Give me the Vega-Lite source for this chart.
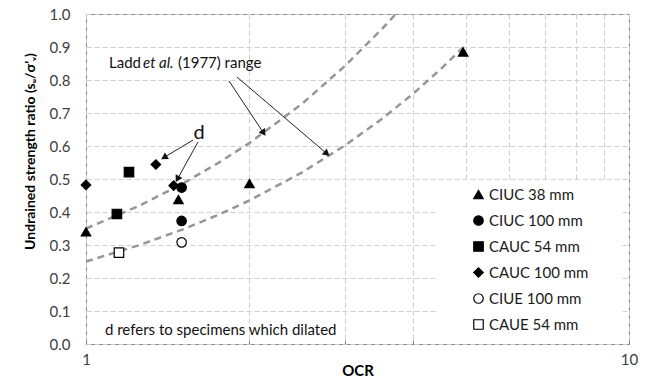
{
  "$schema": "https://vega.github.io/schema/vega-lite/v6.json",
  "width": 543,
  "height": 330,
  "autosize": "none",
  "padding": {"left": 86, "top": 14, "right": 35, "bottom": 45},
  "background": "white",
  "config": {
    "font": "Lato",
    "view": {"stroke": "#808080", "strokeWidth": 1},
    "axis": {
      "labelFont": "Lato", "labelFontSize": 15, "labelColor": "#404040",
      "titleFont": "Lato", "titleFontSize": 15, "titleFontWeight": "bold", "titleColor": "#000000",
      "domain": false, "ticks": false, "labelOverlap": false,
      "gridColor": "#cfcfcf", "gridDash": [5, 3], "gridWidth": 1
    },
    "axisY": {"labelOverlap": false},
    "axisQuantitative": {"labelOverlap": false},
    "legend": {
      "orient": "none", "legendX": 385, "legendY": 173,
      "labelFont": "Lato", "labelFontSize": 15, "labelColor": "#1a1a1a",
      "symbolSize": 90, "symbolStrokeWidth": 1.2,
      "rowPadding": 10, "labelOffset": 3, "padding": 0
    }
  },
  "datasets": {
    "points": [
      {"series": "CIUC 38 mm", "ocr": 1.0, "ratio": 0.34},
      {"series": "CIUC 38 mm", "ocr": 1.48, "ratio": 0.438},
      {"series": "CIUC 38 mm", "ocr": 2.0, "ratio": 0.486},
      {"series": "CIUC 38 mm", "ocr": 4.95, "ratio": 0.885},
      {"series": "CIUC 100 mm", "ocr": 1.5, "ratio": 0.474},
      {"series": "CIUC 100 mm", "ocr": 1.5, "ratio": 0.373},
      {"series": "CAUC 54 mm", "ocr": 1.2, "ratio": 0.521},
      {"series": "CAUC 54 mm", "ocr": 1.14, "ratio": 0.394},
      {"series": "CAUC 100 mm", "ocr": 1.0, "ratio": 0.482},
      {"series": "CAUC 100 mm", "ocr": 1.345, "ratio": 0.544},
      {"series": "CAUC 100 mm", "ocr": 1.45, "ratio": 0.48},
      {"series": "CIUE 100 mm", "ocr": 1.5, "ratio": 0.308},
      {"series": "CAUE 54 mm", "ocr": 1.15, "ratio": 0.277}
    ],
    "curves": [
      {"curve": "lower", "ocr": 1.0, "ratio": 0.25},
      {"curve": "lower", "ocr": 1.25, "ratio": 0.299},
      {"curve": "lower", "ocr": 1.5, "ratio": 0.346},
      {"curve": "lower", "ocr": 1.75, "ratio": 0.391},
      {"curve": "lower", "ocr": 2.0, "ratio": 0.435},
      {"curve": "lower", "ocr": 2.5, "ratio": 0.52},
      {"curve": "lower", "ocr": 3.0, "ratio": 0.602},
      {"curve": "lower", "ocr": 3.5, "ratio": 0.681},
      {"curve": "lower", "ocr": 4.0, "ratio": 0.758},
      {"curve": "lower", "ocr": 4.5, "ratio": 0.833},
      {"curve": "lower", "ocr": 5.0, "ratio": 0.906},
      {"curve": "upper", "ocr": 1.0, "ratio": 0.35},
      {"curve": "upper", "ocr": 1.25, "ratio": 0.418},
      {"curve": "upper", "ocr": 1.5, "ratio": 0.484},
      {"curve": "upper", "ocr": 1.75, "ratio": 0.548},
      {"curve": "upper", "ocr": 2.0, "ratio": 0.609},
      {"curve": "upper", "ocr": 2.5, "ratio": 0.728},
      {"curve": "upper", "ocr": 3.0, "ratio": 0.843},
      {"curve": "upper", "ocr": 3.5, "ratio": 0.953},
      {"curve": "upper", "ocr": 3.72, "ratio": 1.0}
    ],
    "arrows": [
      {"id": "a1", "ocr": 1.834, "ratio": 0.797, "ocr2": 2.118, "ratio2": 0.642},
      {"id": "a2", "ocr": 1.897, "ratio": 0.809, "ocr2": 2.767, "ratio2": 0.579},
      {"id": "d1", "ocr": 1.574, "ratio": 0.618, "ocr2": 1.398, "ratio2": 0.567},
      {"id": "d2", "ocr": 1.608, "ratio": 0.612, "ocr2": 1.477, "ratio2": 0.503}
    ],
    "notes": [
      {"key": "ladd", "label": "Ladd", "ocr": 1.1024, "ratio": 0.8515},
      {"key": "etal", "label": "et al.", "ocr": 1.2735, "ratio": 0.8515},
      {"key": "ladd", "label": "(1977) range", "ocr": 1.477, "ratio": 0.8515},
      {"key": "d", "label": "d", "ocr": 1.615, "ratio": 0.639},
      {"key": "foot", "label": "d refers to specimens which dilated", "ocr": 1.0838, "ratio": 0.0424}
    ],
    "legendbox": [
      {"ocr": 4.45, "ocr2": 9.7, "ratio": 0.0, "ratio2": 0.494}
    ]
  },
  "layer": [
    {
      "data": {"name": "legendbox"},
      "mark": {"type": "rect", "fill": "white", "stroke": null},
      "encoding": {
        "x": {
          "field": "ocr", "type": "quantitative",
          "scale": {"type": "log", "domain": [1, 10], "nice": false},
          "axis": {
            "title": "OCR", "values": [1, 2, 3, 4, 5, 6, 7, 8, 9, 10],
            "labelExpr": "datum.value == 1 || datum.value == 10 ? datum.label : ''",
            "ticks": true, "tickSize": -4, "tickColor": "#808080",
            "labelPadding": 12, "titlePadding": -4, "labelFlush": false, "labelOverlap": false
          }
        },
        "x2": {"field": "ocr2"},
        "y": {
          "field": "ratio", "type": "quantitative",
          "scale": {"domain": [0, 1], "nice": false},
          "axis": {
            "title": "Undrained strength ratio (sᵤ/σ'ᵥ)",
            "titleFontSize": 14, "titleY": 137, "titleAlign": "center",
            "tickCount": 10,
            "format": ".1f", "labelPadding": 16, "titlePadding": 12,
            "labelOverlap": false, "labelBound": false
          }
        },
        "y2": {"field": "ratio2"}
      }
    },
    {
      "data": {"name": "curves"},
      "mark": {"type": "line", "color": "#969696", "strokeWidth": 2.5, "strokeDash": [7, 5]},
      "encoding": {
        "x": {"field": "ocr", "type": "quantitative"},
        "y": {"field": "ratio", "type": "quantitative"},
        "detail": {"field": "curve"}
      }
    },
    {
      "data": {"name": "arrows"},
      "mark": {"type": "rule", "color": "#222222", "strokeWidth": 1},
      "encoding": {
        "x": {"field": "ocr", "type": "quantitative"},
        "y": {"field": "ratio", "type": "quantitative"},
        "x2": {"field": "ocr2"},
        "y2": {"field": "ratio2"}
      }
    },
    {
      "data": {"name": "arrows"},
      "transform": [{"filter": "datum.id == 'a1'"}],
      "mark": {"type": "point", "shape": "triangle", "filled": true, "color": "#111111", "size": 60, "angle": 145, "opacity": 1},
      "encoding": {
        "x": {"field": "ocr2", "type": "quantitative"},
        "y": {"field": "ratio2", "type": "quantitative"}
      }
    },
    {
      "data": {"name": "arrows"},
      "transform": [{"filter": "datum.id == 'a2'"}],
      "mark": {"type": "point", "shape": "triangle", "filled": true, "color": "#111111", "size": 60, "angle": 130, "opacity": 1},
      "encoding": {
        "x": {"field": "ocr2", "type": "quantitative"},
        "y": {"field": "ratio2", "type": "quantitative"}
      }
    },
    {
      "data": {"name": "arrows"},
      "transform": [{"filter": "datum.id == 'd1'"}],
      "mark": {"type": "point", "shape": "triangle", "filled": true, "color": "#111111", "size": 60, "angle": 239, "opacity": 1},
      "encoding": {
        "x": {"field": "ocr2", "type": "quantitative"},
        "y": {"field": "ratio2", "type": "quantitative"}
      }
    },
    {
      "data": {"name": "arrows"},
      "transform": [{"filter": "datum.id == 'd2'"}],
      "mark": {"type": "point", "shape": "triangle", "filled": true, "color": "#111111", "size": 60, "angle": 209, "opacity": 1},
      "encoding": {
        "x": {"field": "ocr2", "type": "quantitative"},
        "y": {"field": "ratio2", "type": "quantitative"}
      }
    },
    {
      "data": {"name": "notes"},
      "transform": [{"filter": "datum.key == 'ladd'"}],
      "mark": {"type": "text", "align": "left", "baseline": "middle", "fontSize": 15, "color": "#111111"},
      "encoding": {
        "x": {"field": "ocr", "type": "quantitative"},
        "y": {"field": "ratio", "type": "quantitative"},
        "text": {"field": "label"}
      }
    },
    {
      "data": {"name": "notes"},
      "transform": [{"filter": "datum.key == 'etal'"}],
      "mark": {"type": "text", "align": "left", "baseline": "middle", "fontSize": 15, "fontStyle": "italic", "color": "#111111"},
      "encoding": {
        "x": {"field": "ocr", "type": "quantitative"},
        "y": {"field": "ratio", "type": "quantitative"},
        "text": {"field": "label"}
      }
    },
    {
      "data": {"name": "notes"},
      "transform": [{"filter": "datum.key == 'd'"}],
      "mark": {"type": "text", "align": "center", "baseline": "middle", "fontSize": 20, "color": "#111111"},
      "encoding": {
        "x": {"field": "ocr", "type": "quantitative"},
        "y": {"field": "ratio", "type": "quantitative"},
        "text": {"field": "label"}
      }
    },
    {
      "data": {"name": "notes"},
      "transform": [{"filter": "datum.key == 'foot'"}],
      "mark": {"type": "text", "align": "left", "baseline": "middle", "fontSize": 15, "color": "#111111"},
      "encoding": {
        "x": {"field": "ocr", "type": "quantitative"},
        "y": {"field": "ratio", "type": "quantitative"},
        "text": {"field": "label"}
      }
    },
    {
      "data": {"name": "points"},
      "mark": {"type": "point", "filled": true, "strokeWidth": 1.2, "size": 90, "opacity": 1},
      "encoding": {
        "x": {"field": "ocr", "type": "quantitative"},
        "y": {"field": "ratio", "type": "quantitative"},
        "shape": {
          "field": "series", "type": "nominal", "title": null,
          "scale": {
            "domain": ["CIUC 38 mm", "CIUC 100 mm", "CAUC 54 mm", "CAUC 100 mm", "CIUE 100 mm", "CAUE 54 mm"],
            "range": ["triangle-up", "circle", "square", "diamond", "circle", "square"]
          }
        },
        "fill": {
          "field": "series", "type": "nominal", "title": null,
          "scale": {
            "domain": ["CIUC 38 mm", "CIUC 100 mm", "CAUC 54 mm", "CAUC 100 mm", "CIUE 100 mm", "CAUE 54 mm"],
            "range": ["#000000", "#000000", "#000000", "#000000", "#ffffff", "#ffffff"]
          }
        },
        "stroke": {
          "field": "series", "type": "nominal", "title": null,
          "scale": {
            "domain": ["CIUC 38 mm", "CIUC 100 mm", "CAUC 54 mm", "CAUC 100 mm", "CIUE 100 mm", "CAUE 54 mm"],
            "range": ["#000000", "#000000", "#000000", "#000000", "#000000", "#000000"]
          }
        }
      }
    }
  ]
}
